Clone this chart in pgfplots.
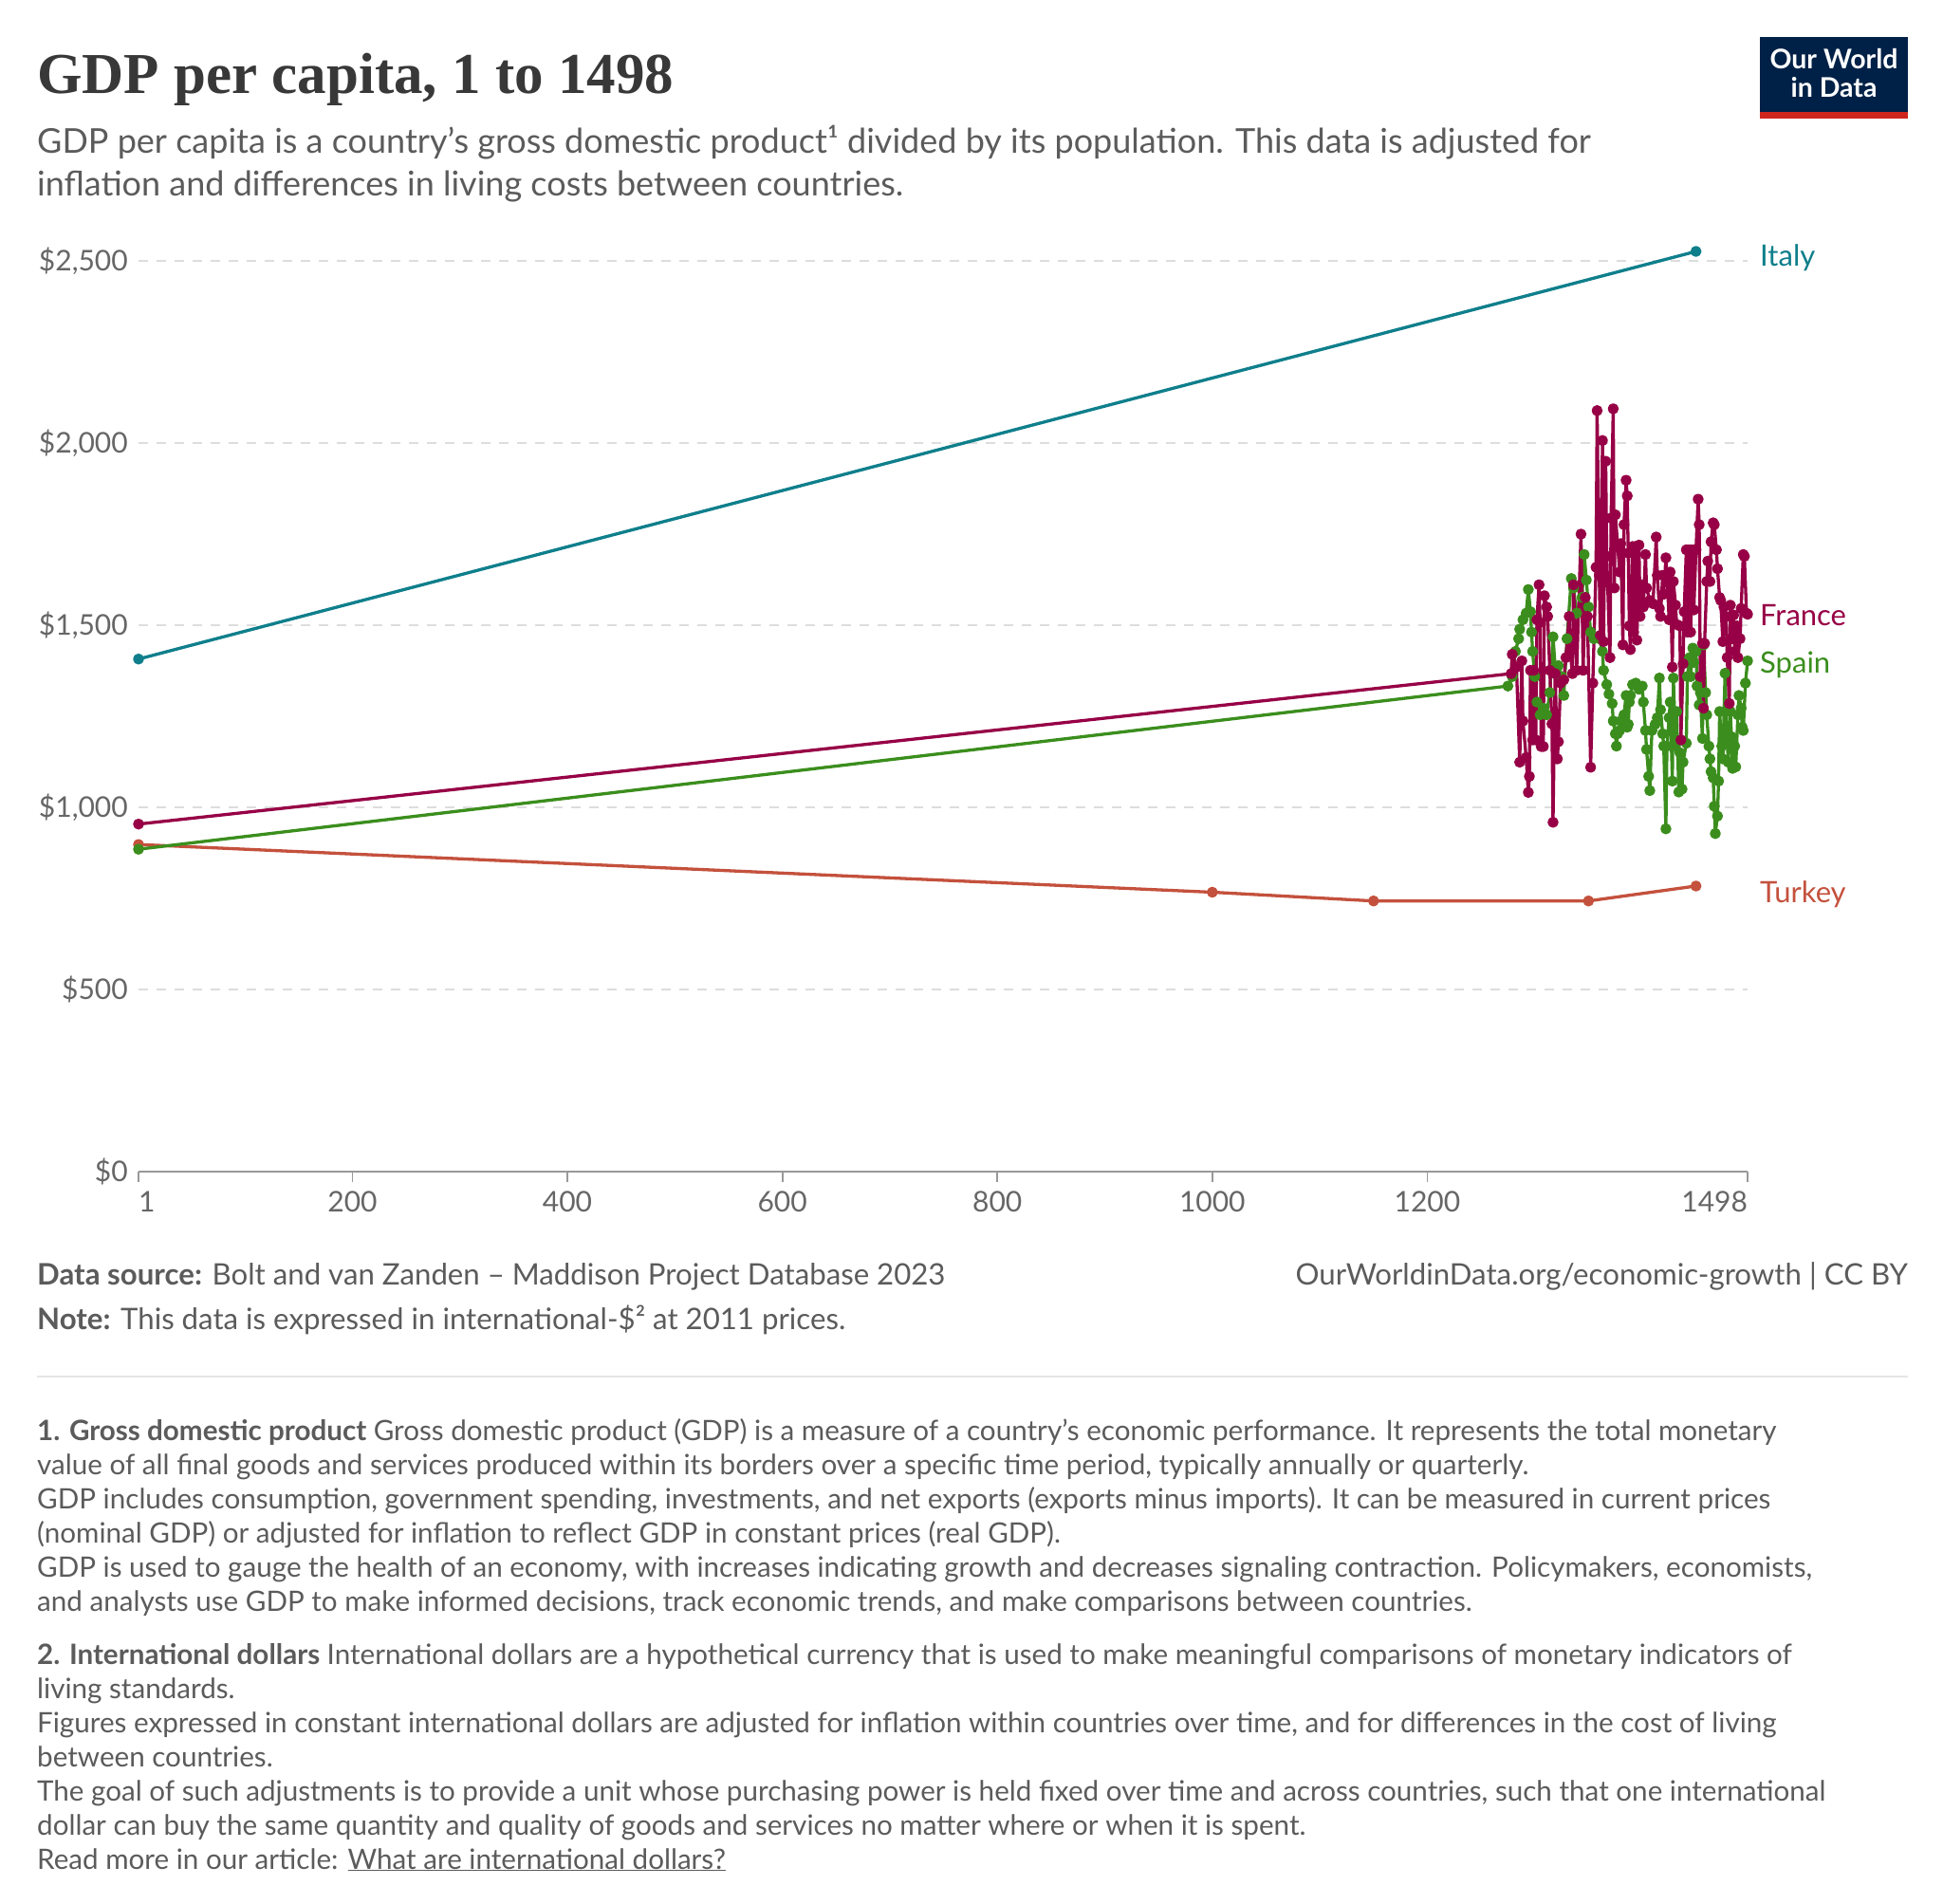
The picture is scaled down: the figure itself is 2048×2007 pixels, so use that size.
\documentclass[border=0pt]{standalone}
\usepackage{fontspec}
\setmainfont{Lato}
\newfontfamily\titlefont{Liberation Serif}
\usepackage{pgfplots}
\usepackage{pgfplotstable}
\pgfplotsset{compat=1.18}
\definecolor{owidtitle}{HTML}{383838}
\definecolor{owidtext}{HTML}{5B5B5B}
\definecolor{owidtick}{HTML}{666666}
\definecolor{owidgrid}{HTML}{DDDDDD}
\definecolor{owidaxis}{HTML}{999999}
\definecolor{owidrule}{HTML}{E5E5E5}
\definecolor{italy}{HTML}{0F7F8C}
\definecolor{france}{HTML}{970046}
\definecolor{spain}{HTML}{3B8E1D}
\definecolor{turkey}{HTML}{C4513D}
\definecolor{navy}{HTML}{002147}
\definecolor{owidred}{HTML}{CE261E}
\newcommand{\apos}{\symbol{"27}}

\pgfplotstableread{
year gdp
1 954
1278 1367
1279 1420
1283 1385
1286 1124
1288 1402
1289 1237
1292 1137
1294 1041
1295 1085
1296 1376
1298 1185
1299 1376
1301 1185
1302 1515
1304 1611
1305 1507
1306 1167
1308 1167
1309 1581
1311 1550
1312 1524
1314 1376
1316 1229
1317 959
1319 1367
1321 1133
1322 1180
1324 1341
1327 1350
1329 1411
1332 1524
1333 1428
1335 1367
1336 1611
1339 1376
1343 1750
1345 1376
1347 1576
1349 1524
1352 1110
1354 1341
1357 1659
1358 2089
1360 1637
1361 1472
1363 2007
1364 1455
1366 1950
1367 1689
1370 1411
1371 1794
1373 2094
1374 1602
1375 1803
1379 1646
1380 1724
1382 1446
1383 1776
1385 1898
1386 1855
1387 1698
1388 1498
1389 1433
1391 1716
1392 1481
1394 1716
1395 1459
1397 1720
1398 1524
1400 1611
1401 1550
1403 1694
1404 1602
1407 1568
1410 1559
1413 1742
1414 1637
1416 1546
1417 1524
1419 1637
1420 1585
1422 1685
1423 1637
1425 1515
1426 1646
1428 1385
1429 1620
1431 1555
1432 1502
1435 1498
1436 1185
1438 1394
1439 1537
1441 1707
1442 1481
1444 1707
1445 1481
1447 1707
1448 1542
1450 1707
1452 1846
1453 1776
1454 1359
1456 1450
1457 1272
1458 1450
1460 1620
1461 1676
1463 1620
1464 1729
1466 1781
1467 1776
1469 1707
1470 1655
1472 1576
1473 1568
1475 1455
1476 1550
1478 1524
1479 1411
1481 1285
1482 1555
1484 1463
1485 1528
1486 1428
1488 1498
1489 1411
1491 1463
1492 1546
1494 1694
1495 1689
1497 1533
1498 1530
}\francedata

\pgfplotstableread{
year gdp
1 885
1275 1333
1279 1359
1282 1428
1285 1463
1286 1489
1289 1515
1292 1533
1294 1598
1296 1537
1297 1481
1298 1428
1300 1359
1302 1289
1305 1254
1308 1272
1311 1254
1314 1315
1317 1468
1319 1385
1322 1389
1325 1359
1327 1307
1330 1463
1334 1628
1336 1602
1339 1533
1344 1576
1346 1694
1348 1624
1350 1550
1352 1481
1355 1463
1360 1463
1363 1428
1364 1376
1367 1337
1369 1311
1372 1285
1373 1237
1375 1202
1376 1168
1377 1202
1379 1211
1380 1237
1383 1254
1385 1307
1386 1220
1387 1228
1388 1289
1389 1307
1391 1337
1394 1341
1397 1324
1400 1333
1401 1289
1403 1211
1404 1159
1406 1085
1407 1046
1409 1211
1412 1228
1414 1246
1416 1355
1417 1268
1419 1202
1420 1168
1422 941
1423 1168
1425 1246
1426 1289
1428 1072
1429 1355
1431 1168
1432 1263
1434 1042
1435 1150
1437 1050
1438 1124
1441 1176
1442 1359
1444 1411
1445 1359
1447 1437
1448 1398
1450 1428
1451 1333
1453 1281
1454 1315
1456 1189
1457 1446
1459 1315
1460 1254
1462 1168
1463 1133
1464 1098
1466 1081
1467 1003
1468 928
1470 976
1471 1072
1472 1263
1474 1168
1475 1133
1477 1368
1479 1185
1480 1124
1482 1263
1483 1194
1484 1107
1486 1168
1487 1111
1489 1254
1490 1307
1492 1272
1493 1220
1494 1211
1496 1341
1498 1402
}\spaindata

\begin{document}
\begin{tikzpicture}[x=1pt,y=1pt]
\path[use as bounding box, fill=white] (0,0) rectangle (2048,-2007);

% title and subtitle
\node[anchor=base west, inner sep=0pt, text=owidtitle, font={\titlefont\bfseries\fontsize{61}{70}\selectfont}] at (39,-99) {GDP per capita, 1 to 1498};
\node[anchor=base west, inner sep=0pt, text=owidtext, font={\fontsize{36}{44}\selectfont}] at (39,-161) {GDP per capita is a country\apos s gross domestic product¹ divided by its population. This data is adjusted for};
\node[anchor=base west, inner sep=0pt, text=owidtext, font={\fontsize{36}{44}\selectfont}] at (39,-206) {inflation and differences in living costs between countries.};

% logo
\fill[navy] (1855,-39) rectangle (2011,-118);
\fill[owidred] (1855,-118) rectangle (2011,-125);
\node[anchor=base, inner sep=0pt, text=white, font={\bfseries\fontsize{28.5}{30}\selectfont}] at (1933,-73) {Our World};
\node[anchor=base, inner sep=0pt, text=white, font={\bfseries\fontsize{28.5}{30}\selectfont}] at (1933,-103) {in Data};

\begin{axis}[
  at={(146pt,-1235pt)}, anchor=south west, scale only axis,
  width=1696pt, height=998.4pt,
  xmin=1, xmax=1498, ymin=0, ymax=2600,
  clip=false,
  axis x line*=bottom, axis y line*=left,
  y axis line style={draw=none},
  x axis line style={draw=owidaxis, line width=1.8pt},
  xtick={1,200,400,600,800,1000,1200,1498},
  xticklabels={\makebox[0pt][l]{1},200,400,600,800,1000,1200,\makebox[0pt][r]{1498}},
  ytick={0,500,1000,1500,2000,2500},
  yticklabels={\$0,\$500,{\$1,000},{\$1,500},{\$2,000},{\$2,500}},
  tick align=outside, major tick length=11pt,
  xtick style={draw=owidaxis, line width=1.8pt},
  ytick style={draw=none},
  ticklabel style={font=\fontsize{30}{36}\selectfont, text=owidtick},
  xticklabel style={anchor=north, inner sep=0pt, yshift=-10pt},
  yticklabel style={anchor=east, inner sep=0pt},
  ymajorgrids,
  grid style={draw=owidgrid, line width=1.6pt, dash pattern=on 10pt off 9pt},
  every axis plot/.append style={line width=3.3pt, line join=round, mark=*, mark size=4.1pt, mark options={solid, draw=none}},
]
\addplot[italy, mark options={fill=italy}] coordinates {(1,1407) (1450,2526)};
\addplot[turkey, mark options={fill=turkey}] coordinates {(1,898) (1000,767) (1150,743) (1350,743) (1450,784)};
\addplot[spain, mark options={fill=spain}] table[x=year, y=gdp] {\spaindata};
\addplot[france, mark options={fill=france}] table[x=year, y=gdp] {\francedata};
\end{axis}

% series labels
\node[anchor=base west, inner sep=0pt, text=italy, font={\fontsize{31}{36}\selectfont}] at (1855,-280) {Italy};
\node[anchor=base west, inner sep=0pt, text=france, font={\fontsize{31}{36}\selectfont}] at (1855,-659) {France};
\node[anchor=base west, inner sep=0pt, text=spain, font={\fontsize{31}{36}\selectfont}] at (1855,-709) {Spain};
\node[anchor=base west, inner sep=0pt, text=turkey, font={\fontsize{31}{36}\selectfont}] at (1855,-951) {Turkey};

% footer
\node[anchor=base west, inner sep=0pt, text=owidtext, font={\fontsize{31.2}{36}\selectfont}] at (39,-1354) {\textbf{Data source:} Bolt and van Zanden – Maddison Project Database 2023};
\node[anchor=base east, inner sep=0pt, text=owidtext, font={\fontsize{31.2}{36}\selectfont}] at (2011,-1354) {OurWorldinData.org/economic-growth | CC BY};
\node[anchor=base west, inner sep=0pt, text=owidtext, font={\fontsize{31.2}{36}\selectfont}] at (39,-1401) {\textbf{Note:} This data is expressed in international-\$² at 2011 prices.};
\draw[owidrule, line width=2pt] (39,-1451) -- (2011,-1451);

% footnotes
\begin{scope}[every node/.style={anchor=base west, inner sep=0pt, text=owidtext, font={\fontsize{29.6}{36}\selectfont}}]
\node at (39,-1518) {\textbf{1. Gross domestic product} Gross domestic product (GDP) is a measure of a country\apos s economic performance. It represents the total monetary};
\node at (39,-1554) {value of all final goods and services produced within its borders over a specific time period, typically annually or quarterly.};
\node at (39,-1590) {GDP includes consumption, government spending, investments, and net exports (exports minus imports). It can be measured in current prices};
\node at (39,-1626) {(nominal GDP) or adjusted for inflation to reflect GDP in constant prices (real GDP).};
\node at (39,-1662) {GDP is used to gauge the health of an economy, with increases indicating growth and decreases signaling contraction. Policymakers, economists,};
\node at (39,-1698) {and analysts use GDP to make informed decisions, track economic trends, and make comparisons between countries.};
\node at (39,-1754) {\textbf{2. International dollars} International dollars are a hypothetical currency that is used to make meaningful comparisons of monetary indicators of};
\node at (39,-1790) {living standards.};
\node at (39,-1826) {Figures expressed in constant international dollars are adjusted for inflation within countries over time, and for differences in the cost of living};
\node at (39,-1862) {between countries.};
\node at (39,-1898) {The goal of such adjustments is to provide a unit whose purchasing power is held fixed over time and across countries, such that one international};
\node at (39,-1934) {dollar can buy the same quantity and quality of goods and services no matter where or when it is spent.};
\node at (39,-1970) {Read more in our article: \underline{What are international dollars?}};
\end{scope}
\end{tikzpicture}
\end{document}
